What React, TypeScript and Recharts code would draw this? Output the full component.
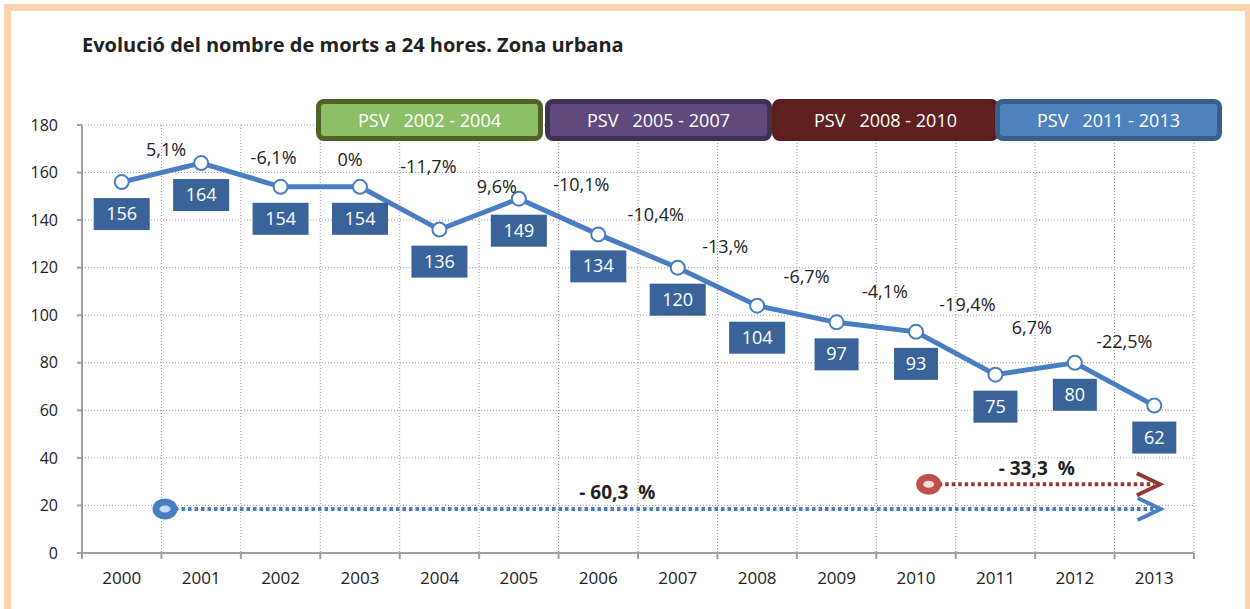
import { LineChart, Line, XAxis, YAxis, CartesianGrid, LabelList, ReferenceLine, ReferenceDot } from "recharts";

const years = ["2000", "2001", "2002", "2003", "2004", "2005", "2006", "2007", "2008", "2009", "2010", "2011", "2012", "2013"];
const deaths = [156, 164, 154, 154, 136, 149, 134, 120, 104, 97, 93, 75, 80, 62];
const changes = ["", "5,1%", "-6,1%", "0%", "-11,7%", "9,6%", "-10,1%", "-10,4%", "-13,%", "-6,7%", "-4,1%", "-19,4%", "6,7%", "-22,5%"];
const yTicks = [0, 20, 40, 60, 80, 100, 120, 140, 160, 180];
const plans = ["PSV   2002 - 2004", "PSV   2005 - 2007", "PSV   2008 - 2010", "PSV   2011 - 2013"];
const totals = ["- 60,3  %", "- 33,3  %"];

const data = years.map((year, i) => ({ year, deaths: deaths[i], change: changes[i] }));

// layout
const W = 1250;
const H = 609;
const PLOT_LEFT = 82;
const PLOT_RIGHT = 56;
const PLOT_TOP = 125;
const PLOT_BOTTOM = 56;
const BAND = (W - PLOT_LEFT - PLOT_RIGHT) / years.length;
const FONT = "'Open Sans', 'Noto Sans', sans-serif";
const LINE = "#4A7EC2";
const BOX = "#3A6499";
const AXIS = "#A0A0A0";
const TEXT = "#222";

// manual nudges of the % labels (px, relative to the point)
const pctNudge: [number, number][] = [
  [0, 0], [-35, -13], [-7, -29], [-10, -27], [-11, -63], [-22, -12], [-17, -49],
  [-22, -53], [-32, -59], [-30, -45], [-31, -40], [-28, -70], [-43, -35], [-30, -64],
];

// arrows: x in fractional category index (0 = centre of 2000), y in axis units
const arrows = [
  { from: 0.545, to: 13.08, y: 18.5, line: "#4A7EC2", ring: "#4A7EC2", fill: "#C6D9F0", text: { x: 6.24, y: 25.7 } },
  { from: 10.16, to: 13.07, y: 28.9, line: "#953735", ring: "#C0504D", fill: "#F2DCDB", text: { x: 11.52, y: 35.9 } },
];
const cat = (v: number) => years[Math.min(years.length - 1, Math.floor(v))];
const frac = (v: number) => (v - Math.min(years.length - 1, Math.floor(v))) * BAND;

const planStyles = [
  { left: 316, fill: "#8DBE68", border: "#4F6228" },
  { left: 545, fill: "#604A7B", border: "#3F3151" },
  { left: 772, fill: "#5E2120", border: "#5A1E1C" },
  { left: 995, fill: "#4F81BD", border: "#385D8A" },
];

function XTick(props: any) {
  const { x, y, payload, index } = props;
  const half = BAND / 2;
  return (
    <g>
      <line x1={x - half} y1={y} x2={x - half} y2={y + 6} stroke={AXIS} strokeWidth={2} />
      {index === years.length - 1 && <line x1={x + half} y1={y} x2={x + half} y2={y + 6} stroke={AXIS} strokeWidth={2} />}
      <text x={x} y={y + 31} textAnchor="middle" fontSize={17} fill={TEXT} fontFamily={FONT}>
        {payload.value}
      </text>
    </g>
  );
}

function ValueBox(props: any) {
  const { x, y, value } = props;
  const w = 20 + 12 * String(value).length;
  return (
    <g>
      <rect x={x - w / 2} y={y + 16} width={w} height={32} fill={BOX} />
      <text x={x} y={y + 38} textAnchor="middle" fontSize={18} fill="#fff" fontFamily={FONT}>
        {value}
      </text>
    </g>
  );
}

function PctLabel(props: any) {
  const { x, y, value, index } = props;
  if (!value) return null;
  const [dx, dy] = pctNudge[index] ?? [0, -30];
  return (
    <text x={x + dx} y={y + dy + 6} textAnchor="middle" fontSize={18} fill={TEXT} fontFamily={FONT}>
      {value}
    </text>
  );
}

function Arrow(props: any, a: (typeof arrows)[number]) {
  const x1 = props.x1 + frac(a.from);
  const x2 = props.x2 + frac(a.to);
  const y1 = props.y1;
  return (
    <g>
      <line x1={x1 + 10} y1={y1} x2={x2 - 6} y2={y1} stroke={a.line} strokeWidth={4} strokeDasharray="3.5 3" />
      <polyline points={`${x2 - 23},${y1 - 11} ${x2},${y1} ${x2 - 23},${y1 + 11}`} fill="none" stroke={a.line} strokeWidth={4} />
      <ellipse cx={x1} cy={y1} rx={9} ry={7} fill={a.fill} stroke={a.ring} strokeWidth={7} />
    </g>
  );
}

export default function App() {
  return (
    <div style={{ position: "absolute", left: 0, top: 0, width: W, height: H, background: "#fff", overflow: "hidden", fontFamily: FONT }}>
      <div style={{ position: "absolute", left: 4, top: 4, width: 1248, height: 640, border: "7px solid #F8D3AE", boxSizing: "border-box" }} />
      <div style={{ position: "absolute", left: 82, top: 31, fontSize: 20, fontWeight: 700, color: TEXT, whiteSpace: "nowrap" }}>
        Evolució del nombre de morts a 24 hores. Zona urbana
      </div>
      <div style={{ position: "absolute", left: 0, top: 0 }}>
        <LineChart width={W} height={H} data={data} margin={{ top: PLOT_TOP, right: PLOT_RIGHT, left: 22, bottom: 16 }}>
          <CartesianGrid
            stroke="#9a9a9a"
            strokeDasharray="1 2"
            verticalCoordinatesGenerator={(p: any) => {
              const left = p?.offset?.left ?? PLOT_LEFT;
              const width = p?.offset?.width ?? W - PLOT_LEFT - PLOT_RIGHT;
              return Array.from({ length: years.length + 1 }, (_, i) => left + (i * width) / years.length);
            }}
          />
          <XAxis
            dataKey="year"
            height={PLOT_BOTTOM - 16}
            padding={{ left: BAND / 2, right: BAND / 2 }}
            tickLine={false}
            tickSize={0}
            tickMargin={0}
            interval={0}
            axisLine={{ stroke: AXIS, strokeWidth: 2 }}
            tick={<XTick />}
          />
          <YAxis
            width={60}
            domain={[0, 180]}
            ticks={yTicks}
            interval={0}
            tickSize={5}
            tickMargin={19}
            axisLine={{ stroke: AXIS, strokeWidth: 2 }}
            tickLine={{ stroke: AXIS, strokeWidth: 2 }}
            tick={{ fontSize: 16, fill: TEXT, fontFamily: FONT }}
          />
          {arrows.map((a, i) => (
            <ReferenceLine
              key={`arrow-${i}`}
              segment={[{ x: cat(a.from), y: a.y }, { x: cat(a.to), y: a.y }]}
              ifOverflow="visible"
              shape={(p: any) => Arrow(p, a)}
            />
          ))}
          {arrows.map((a, i) => (
            <ReferenceDot
              key={`total-${i}`}
              x={cat(a.text.x)}
              y={a.text.y}
              r={0}
              ifOverflow="visible"
              shape={(p: any) => (
                <text
                  x={p.cx + frac(a.text.x)}
                  y={p.cy + 7}
                  textAnchor="middle"
                  fontSize={19}
                  fontWeight={700}
                  fill={TEXT}
                  fontFamily={FONT}
                  style={{ whiteSpace: "pre" }}
                >
                  {totals[i]}
                </text>
              )}
            />
          ))}
          <Line
            dataKey="deaths"
            stroke={LINE}
            strokeWidth={5}
            dot={{ r: 7, fill: "#fff", stroke: LINE, strokeWidth: 2 }}
            activeDot={false}
            isAnimationActive={false}
          >
            <LabelList dataKey="deaths" content={<ValueBox />} />
            <LabelList dataKey="change" content={<PctLabel />} />
          </Line>
        </LineChart>
      </div>
      {plans.map((p, i) => (
        <div
          key={p}
          style={{
            position: "absolute",
            left: planStyles[i].left,
            top: 99,
            width: 227,
            height: 42,
            boxSizing: "border-box",
            background: planStyles[i].fill,
            border: `5px solid ${planStyles[i].border}`,
            borderRadius: 8,
            color: "#fff",
            fontSize: 18,
            lineHeight: "32px",
            textAlign: "center",
            whiteSpace: "pre",
          }}
        >
          {p}
        </div>
      ))}
    </div>
  );
}
